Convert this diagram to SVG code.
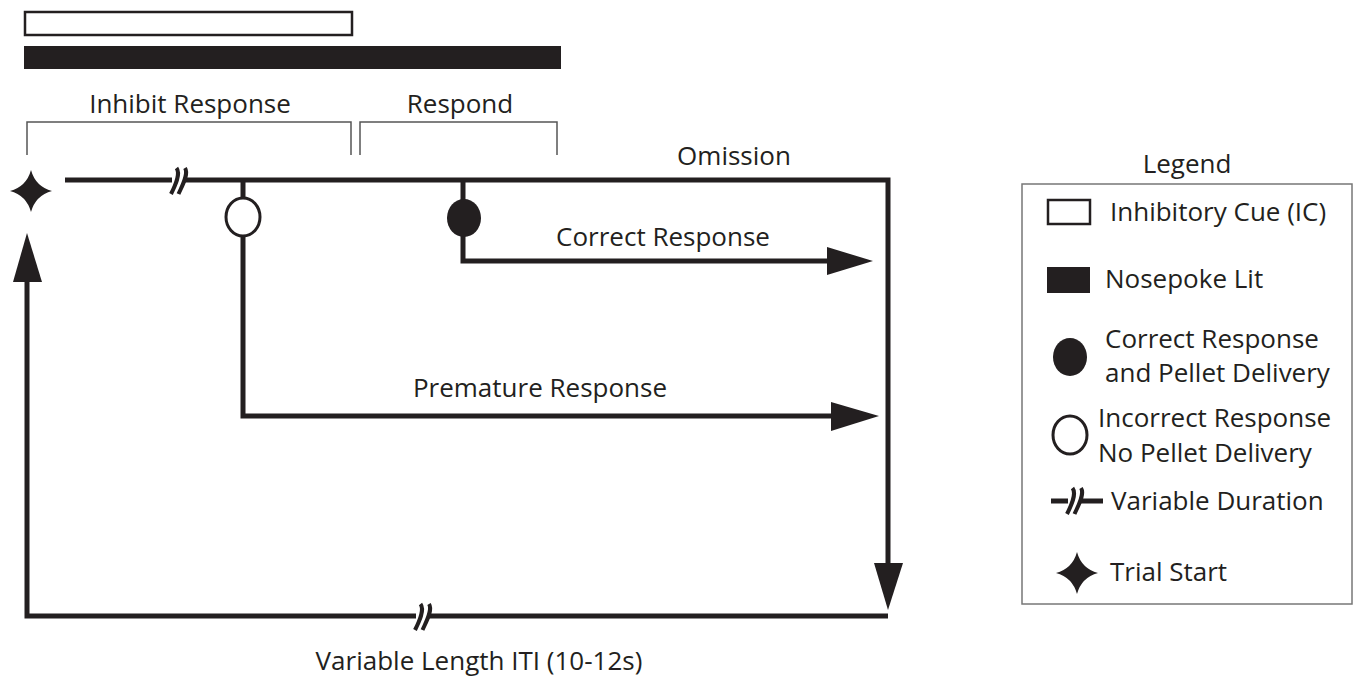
<svg xmlns="http://www.w3.org/2000/svg" width="1355" height="679" viewBox="0 0 1355 679">
<style>
text{font-family:"Open Sans","Noto Sans","Liberation Sans",sans-serif;font-size:26px;fill:#231f20}
.mid{text-anchor:middle}
.ln{fill:none;stroke:#231f20;stroke-width:5;stroke-linejoin:miter}
.br{fill:none;stroke:#555;stroke-width:1.5}
.ah{fill:#231f20}
</style>
<defs>
<path id="star" d="M0,-21 Q4.5,-4.5 21,0 Q4.5,4.5 0,21 Q-4.5,4.5 -21,0 Q-4.5,-4.5 0,-21 Z" fill="#231f20"/>
<g id="brk">
<rect x="-6" y="-4" width="12" height="8" fill="#fff"/>
<path d="M-1.5,-13 C3,-7 -3,5 -7,13 M7,-13 C11,-7 4,5 0.5,13" fill="none" stroke="#231f20" stroke-width="4"/>
</g>
</defs>

<g id="timeline-bars">
<rect x="25" y="12" width="327" height="23" fill="#fff" stroke="#231f20" stroke-width="2.5"/>
<rect x="24" y="46" width="537" height="23" fill="#231f20"/>
</g>

<g id="phase-brackets">
<text class="mid" x="190" y="113">Inhibit Response</text>
<path class="br" d="M27,155 V122 H351 V155"/>
<text class="mid" x="460" y="113">Respond</text>
<path class="br" d="M360,155 V122 H557 V155"/>
</g>

<g id="connectors">
<path class="ln" d="M65,180 H888 V565"/>
<polygon class="ah" points="874,563 903,563 888,610"/>
<path class="ln" d="M888,616 H27 V282"/>
<polygon class="ah" points="13,282 42,282 27,233"/>
<path class="ln" d="M243,180 V416 H833"/>
<polygon class="ah" points="831,402 831,431 879,416"/>
<path class="ln" d="M463,180 V261 H829"/>
<polygon class="ah" points="827,247 827,275 873,261"/>
<use href="#brk" x="178" y="181"/>
<use href="#brk" x="422" y="617"/>
</g>

<g id="trial-start"><use href="#star" x="31" y="191"/></g>
<g id="incorrect-response"><ellipse cx="243" cy="217" rx="17" ry="19" fill="#fff" stroke="#231f20" stroke-width="3"/></g>
<g id="correct-response"><ellipse cx="464" cy="218" rx="17" ry="19" fill="#231f20"/></g>

<g id="labels">
<text class="mid" x="734" y="165">Omission</text>
<text class="mid" x="663" y="246">Correct Response</text>
<text class="mid" x="540" y="397">Premature Response</text>
<text class="mid" x="479" y="670">Variable Length ITI (10-12s)</text>
</g>

<g id="legend">
<text class="mid" x="1187" y="173">Legend</text>
<rect x="1022" y="184" width="330" height="420" fill="none" stroke="#777" stroke-width="1.5"/>
<rect x="1048" y="200" width="42" height="24" fill="#fff" stroke="#231f20" stroke-width="2.5"/>
<text x="1110" y="221">Inhibitory Cue (IC)</text>
<rect x="1047" y="267" width="43" height="26" fill="#231f20"/>
<text x="1105" y="288">Nosepoke Lit</text>
<ellipse cx="1070" cy="357" rx="17" ry="19" fill="#231f20"/>
<text x="1105" y="348">Correct Response</text>
<text x="1105" y="382">and Pellet Delivery</text>
<ellipse cx="1070" cy="435" rx="17" ry="19" fill="#fff" stroke="#231f20" stroke-width="3"/>
<text x="1098" y="427">Incorrect Response</text>
<text x="1098" y="462">No Pellet Delivery</text>
<path class="ln" d="M1051,501 H1103"/>
<use href="#brk" x="1074" y="501"/>
<text x="1111" y="510">Variable Duration</text>
<use href="#star" x="1077" y="573"/>
<text x="1110" y="581">Trial Start</text>
</g>
</svg>
